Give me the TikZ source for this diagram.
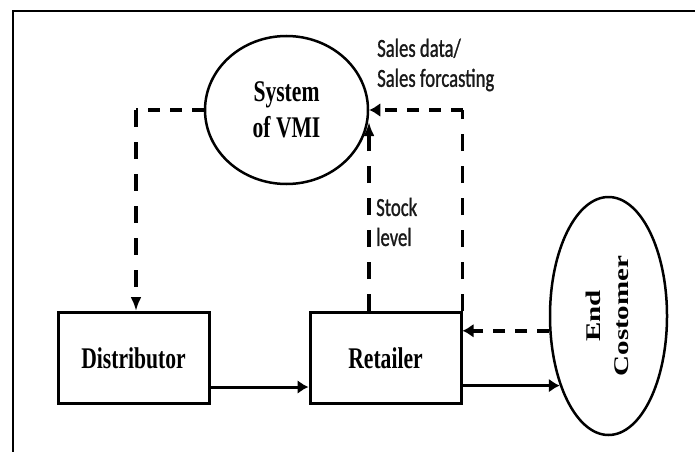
\documentclass[tikz,border=0pt]{standalone}
\usepackage{fontspec}
\setmainfont{Liberation Serif}
\newfontfamily\labelfont[FakeBold=1.2]{Carlito}
\usetikzlibrary{arrows.meta,shapes.geometric}
% narrow lettering: squeeze across the page / across rotated lines
\newcommand{\hsq}[1]{\scalebox{0.72}[1]{#1}}
\newcommand{\vsq}[1]{\scalebox{1}[0.72]{#1}}

\begin{document}
\begin{tikzpicture}[x=1pt,y=-1pt,
  boxnode/.style={draw, line width=3pt, minimum width=151pt, minimum height=91pt,
    inner sep=0pt, font=\fontsize{30}{36}\selectfont\bfseries},
  bubble/.style={ellipse, draw, line width=2.5pt, inner sep=0pt,
    font=\fontsize{30}{36}\selectfont\bfseries, align=center},
  note/.style={font=\labelfont\fontsize{26}{30}\selectfont, align=left,
    inner sep=0pt, text=black!90},
  dashv/.style={line width=3.5pt, dash pattern=on 17pt off 15pt},
  dashh/.style={line width=3.5pt, dash pattern=on 12pt off 10pt},
  flow/.style={line width=3pt},
  tiph/.style={-{Latex[length=11pt,width=14pt]}},
  tipv/.style={-{Latex[length=14pt,width=11pt]}}]

\useasboundingbox (0,0) rectangle (695,452);
\fill[white] (0,0) rectangle (695,452);

% outer frame (top and left edges)
\draw[line width=2pt] (695,11) -- (12.5,11) -- (12.5,452);

% main blocks
\node[bubble, minimum width=163pt, minimum height=148pt] (vmi) at (286.5,110)
  {\hsq{System}\\\hsq{of VMI}};
\node[boxnode] (dist) at (133.5,358) {\hsq{Distributor}};
\node[boxnode] (ret) at (385.5,358) {\hsq{Retailer}};
\node[ellipse, draw, line width=2.5pt, inner sep=0pt,
      minimum width=117pt, minimum height=238pt,
      font=\fontsize{29}{28}\selectfont\bfseries] (cust) at (608.5,316)
  {\rotatebox{90}{\begin{tabular}{@{}c@{}}\vsq{End}\\\vsq{Costomer}\end{tabular}}};

% labels
\node[note, anchor=west] (saleslbl) at (377,65)
  {\hsq{Sales data/}\\\hsq{Sales forcasting}};
\node[note, anchor=west] (stocklbl) at (376,222)
  {\hsq{Stock}\\\hsq{level}};

% helper points for the bent connectors
\coordinate (lc) at (136,110);
\coordinate (rc) at (ret.north east |- vmi.east);
\coordinate (stk) at (369,122);
\coordinate (low) at (0,387);

% VMI system -> distributor
\draw[dashh] (vmi.west) -- (lc);
\draw[dashv, tipv] (lc) -- (lc |- dist.north);

% retailer stock level -> VMI system
\draw[dashv, tipv] (ret.north -| stk) -- (stk);

% sales data / forecasting -> VMI system
\draw[dashv] (ret.north east) -- (rc);
\draw[dashh, tiph] (rc) -- (vmi.east);

% physical flow of goods
\draw[flow, tiph] (dist.east |- low) -- (ret.west |- low);
\draw[flow, tiph] (ret.east |- cust.235) -- (cust.235);

% demand information from the end customer
\draw[dashh, tiph] (cust.194) -- (cust.194 -| ret.east);
\end{tikzpicture}
\end{document}
